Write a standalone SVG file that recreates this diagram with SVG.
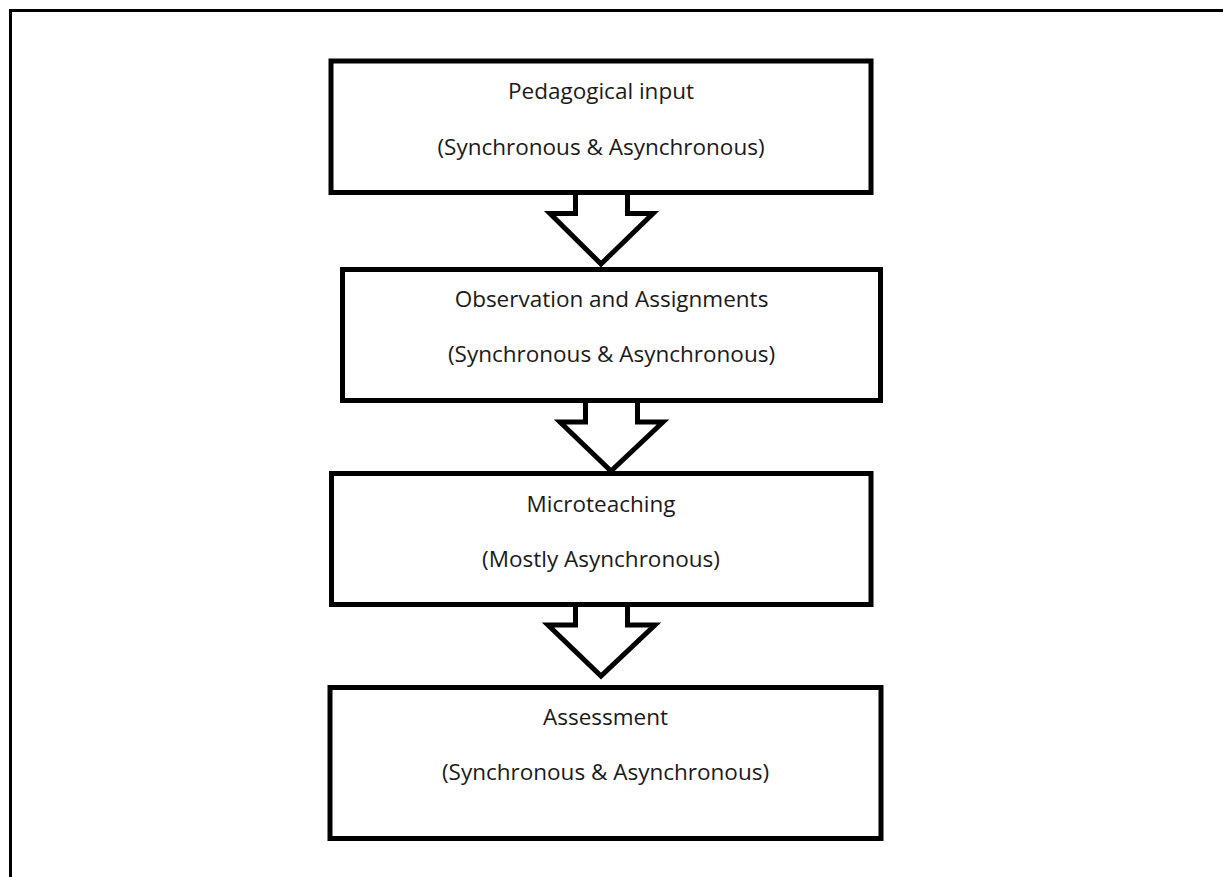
<svg xmlns="http://www.w3.org/2000/svg" width="1223" height="877" viewBox="0 0 1223 877">
<style>
.box{fill:#fff;stroke:#000;stroke-width:5}
.arr{fill:#fff;stroke:#000;stroke-width:5;stroke-linejoin:miter}
.frame{fill:none;stroke:#000;stroke-width:3}
text{font-family:"Open Sans","Noto Sans",sans-serif;font-size:22.5px;fill:#1a1a1a;text-anchor:middle}
</style>
<rect width="1223" height="877" fill="#fff"/>
<path class="frame" d="M10.5,877 V10.5 H1223"/>
<g id="connectors">
<path class="arr" d="M575.5,190 V213.5 H550 L601,264 L653,213.5 H627.5 V190"/>
<path class="arr" d="M585.5,398 V422 H560 L611,471 L663,422 H637.5 V398"/>
<path class="arr" d="M575.5,602 V625 H548 L601,676 L655,625 H627.5 V602"/>
</g>
<g id="node1">
<rect class="box" x="331" y="61" width="540" height="131.5"/>
<text x="601" y="99">Pedagogical input</text>
<text x="601" y="155">(Synchronous &amp; Asynchronous)</text>
</g>
<g id="node2">
<rect class="box" x="342.5" y="269.5" width="538" height="131"/>
<text x="611.5" y="307">Observation and Assignments</text>
<text x="611.5" y="362">(Synchronous &amp; Asynchronous)</text>
</g>
<g id="node3">
<rect class="box" x="331.5" y="473.5" width="539.5" height="131"/>
<text x="601" y="512">Microteaching</text>
<text x="601" y="567">(Mostly Asynchronous)</text>
</g>
<g id="node4">
<rect class="box" x="330" y="687.5" width="551" height="151"/>
<text x="605.5" y="725">Assessment</text>
<text x="605.5" y="780">(Synchronous &amp; Asynchronous)</text>
</g>
</svg>
